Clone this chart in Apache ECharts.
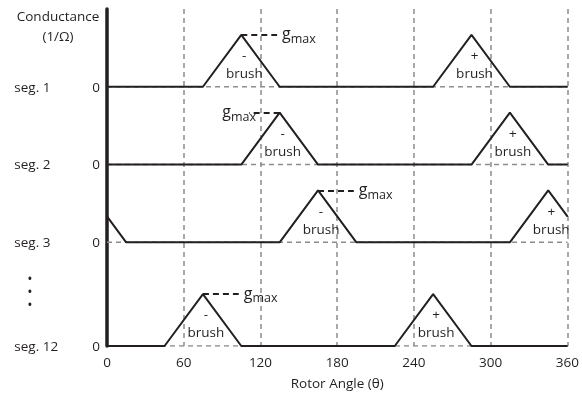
<!DOCTYPE html>
<html>
<head>
<meta charset="utf-8">
<script src="https://cdn.jsdelivr.net/npm/echarts@6/dist/echarts.min.js"></script>
<style>html,body{margin:0;padding:0;background:#fff}#c{width:582px;height:396px}</style>
</head>
<body>
<div id="c"></div>
<script>
// ---- data ----
const xTicks = [0, 60, 120, 180, 240, 300, 360];
const segNames = ['seg. 1', 'seg. 2', 'seg. 3', 'seg. 12'];
// rotor angle breakpoints (deg) and conductance (in units of g_max)
const seg1Angle = [0, 75, 105, 135, 255, 285, 315, 360];
const seg1G     = [0, 0, 1, 0, 0, 1, 0, 0];
const seg2Angle = [0, 105, 135, 165, 285, 315, 345, 360];
const seg2G     = [0, 0, 1, 0, 0, 1, 0, 0];
const seg3Angle = [0, 15, 135, 165, 195, 315, 345, 360];
const seg3G     = [0.5, 0, 0, 1, 0, 0, 1, 0.5];
const seg12Angle = [0, 45, 75, 105, 225, 255, 285, 360];
const seg12G     = [0, 0, 1, 0, 0, 1, 0, 0];
// brush sign under each peak (in order of appearance)
const seg1Signs = ['-', '+'];
const seg2Signs = ['-', '+'];
const seg3Signs = ['-', '+'];
const seg12Signs = ['-', '+'];
// g_max marker: peak angle and end angle of dashed marker
const seg1Gmax = [105, 133];
const seg2Gmax = [135, 111];
const seg3Gmax = [165, 193];
const seg12Gmax = [75, 103];

// ---- layout (lane baselines on shared y scale) ----
const laneBase = [5, 3.5, 2, 0];
const dotsPos = 1.02;
const INK = '#231f20';
const GREY = '#8c8c8c';
const FONT = 'Open Sans';
const FS = 13.5;

const segs = [
  {a: seg1Angle, g: seg1G, s: seg1Signs, m: seg1Gmax},
  {a: seg2Angle, g: seg2G, s: seg2Signs, m: seg2Gmax},
  {a: seg3Angle, g: seg3G, s: seg3Signs, m: seg3Gmax},
  {a: seg12Angle, g: seg12G, s: seg12Signs, m: seg12Gmax}
];

const series = [];
segs.forEach((sg, i) => {
  const b = laneBase[i];
  const leftward = sg.m[1] < sg.m[0];
  series.push({
    type: 'line', data: [[0, b], [360, b]], symbol: 'none', silent: true, z: 1,
    lineStyle: {color: GREY, width: 1.5, type: [5, 4]}, animation: false
  });
  let k = 0;
  const data = sg.a.map((x, j) => {
    const item = {value: [x, sg.g[j] + b]};
    if (sg.g[j] === 1) {
      const sign = sg.s[k++];
      item.label = {
        show: true, position: 'bottom', distance: 12, offset: [3, 0],
        formatter: sign + '\nbrush', color: INK, fontFamily: FONT, fontSize: FS, lineHeight: 18, align: 'center'
      };
    }
    return item;
  });
  series.push({
    type: 'line', data: data, symbol: 'circle', symbolSize: 1, showSymbol: true, z: 3,
    itemStyle: {color: INK}, lineStyle: {color: INK, width: 2}, animation: false,
    emphasis: {disabled: true},
    markLine: {
      silent: true, symbol: ['none', 'none'], animation: false,
      lineStyle: {color: INK, width: 2, type: [6, 4]},
      label: {
        show: true, position: 'end', distance: leftward ? -7 : 5,
        formatter: '{g|g}{m|max}',
        rich: {
          g: {fontFamily: FONT, fontSize: 16, color: INK},
          m: {fontFamily: FONT, fontSize: 12.5, color: INK, padding: [9, 0, 0, 0]}
        }
      },
      data: [[{coord: [sg.m[0], 1 + b]}, {coord: [sg.m[1], 1 + b]}]]
    }
  });
});

const labelVals = laneBase.concat([dotsPos]);
const chart = echarts.init(document.getElementById('c'));
chart.setOption({
  animation: false,
  title: {
    text: 'Conductance\n(1/Ω)', left: 58, top: 7, padding: 0, textAlign: 'center',
    textStyle: {fontFamily: FONT, fontSize: FS, fontWeight: 'normal', color: INK, lineHeight: 20}
  },
  grid: {left: 107, right: 12, top: 9, bottom: 49},
  xAxis: {
    type: 'value', min: xTicks[0], max: xTicks[xTicks.length - 1], interval: 60,
    axisLine: {show: false}, axisTick: {show: false},
    splitLine: {show: true, lineStyle: {color: GREY, width: 1.5, type: [5, 4]}},
    axisLabel: {color: INK, fontFamily: FONT, fontSize: FS, margin: 10,
      formatter: v => xTicks.indexOf(v) >= 0 ? String(v) : ''},
    name: 'Rotor Angle (θ)', nameLocation: 'middle', nameGap: 31,
    nameTextStyle: {color: INK, fontFamily: FONT, fontSize: FS}
  },
  yAxis: {
    type: 'value', min: 0, max: 6.5,
    axisLine: {show: true, lineStyle: {color: INK, width: 3.5}},
    axisTick: {show: false}, splitLine: {show: false},
    axisLabel: {
      customValues: labelVals, margin: 7, color: INK, fontFamily: FONT, fontSize: FS,
      formatter: v => {
        const i = laneBase.indexOf(v);
        if (i >= 0) return '{s|' + segNames[i] + '}{z|0}';
        return '{d|•}{sp|}\n{d|•}{sp|}\n{d|•}{sp|}';
      },
      rich: {
        s: {width: 78, align: 'left', fontFamily: FONT, fontSize: FS, color: INK, padding: [2, 0, 0, 0]},
        z: {fontFamily: FONT, fontSize: FS, color: INK, padding: [2, 0, 0, 0]},
        d: {width: 32, align: 'center', fontFamily: FONT, fontSize: 14, color: INK, lineHeight: 13},
        sp: {width: 54, lineHeight: 13}
      }
    }
  },
  series: series
});
</script>
</body>
</html>
